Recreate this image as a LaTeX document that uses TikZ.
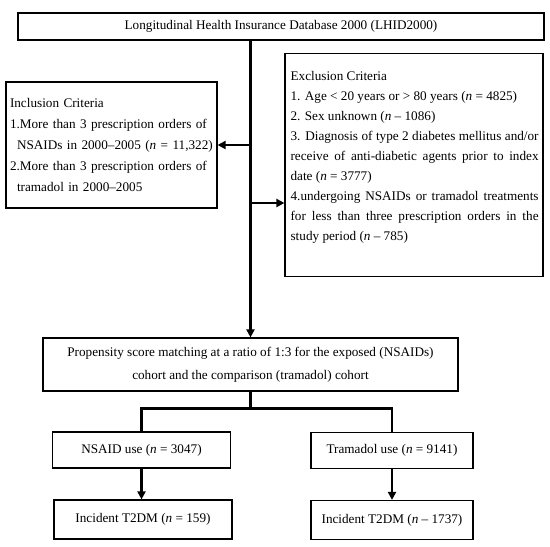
\documentclass[tikz,border=0pt]{standalone}
\usepackage{fontspec}
\setmainfont{Liberation Serif}
\usetikzlibrary{arrows.meta}

\begin{document}
\begin{tikzpicture}[x=1pt,y=-1pt,
  box/.style={draw, line width=1.2pt, inner sep=0pt, font=\fontsize{13.2}{21}\selectfont},
  listtext/.style={inner sep=0pt, text width=248pt, align=justify, font=\fontsize{13.2}{20}\selectfont},
  link/.style={line width=2.6pt},
  arr/.style={link, -{Triangle[length=8pt,width=8pt]}}]
  % page size
  \useasboundingbox (0,0) rectangle (550,547);

  % database
  \node[box, minimum width=526pt, minimum height=27pt] (lhid) at (281,26.5)
    {Longitudinal Health Insurance Database 2000 (LHID2000)};

  % inclusion criteria
  \node[box, minimum width=211pt, minimum height=126pt, text width=203pt, align=left] (incl) at (111.5,145)
    {Inclusion Criteria\\
     1.More than 3 prescription orders of\\
     \hspace*{7pt}NSAIDs in 2000–2005 (\textit{n} = 11,322)\\
     2.More than 3 prescription orders of\\
     \hspace*{7pt}tramadol in 2000–2005};

  % exclusion criteria
  \node[box, minimum width=258pt, minimum height=223pt] (excl) at (414,165) {};
  \node[listtext, anchor=base west] (excltext) at ([xshift=6pt,yshift=-28pt]excl.north west)
    {Exclusion Criteria\\
     1. Age < 20 years or > 80 years (\textit{n} = 4825)\\
     2. Sex unknown (\textit{n} – 1086)\\
     3. Diagnosis of type 2 diabetes mellitus and/or\linebreak
     receive of anti-diabetic agents prior to index\linebreak
     date (\textit{n} = 3777)\\
     4.undergoing NSAIDs or tramadol treatments\linebreak
     for less than three prescription orders in the\linebreak
     study period (\textit{n} – 785)};

  % matching
  \node[box, minimum width=415pt, minimum height=53pt, align=center,
        font=\fontsize{13.2}{23}\selectfont] (psm) at (250.5,364.5)
    {Propensity score matching at a ratio of 1:3 for the exposed (NSAIDs)\\
     cohort and the comparison (tramadol) cohort};

  % cohorts
  \node[box, minimum width=178pt, minimum height=36pt] (nsaid) at (141.5,450) {NSAID use (\textit{n} = 3047)};
  \node[box, minimum width=162pt, minimum height=36pt] (tram) at (392,450.5) {Tramadol use (\textit{n} = 9141)};

  % outcomes
  \node[box, minimum width=178pt, minimum height=39pt] (incN) at (143,519.5) {Incident T2DM (\textit{n} = 159)};
  \node[box, minimum width=162pt, minimum height=39pt] (incT) at (392,520) {Incident T2DM (\textit{n} – 1737)};

  % main flow
  \draw[arr] (lhid.south -| psm.north) -- (psm.north);
  \coordinate (j1) at (psm.north |- incl.east);
  \coordinate (j2) at ([yshift=-58pt]j1);
  \draw[arr] (j1) -- (incl.east);
  \draw[arr] (j2) -- (j2 -| excl.west);

  % split into cohorts
  \draw[link] (psm.south) -- ++(0,17) coordinate (split);
  \draw[link] (nsaid.north) |- (split) -| (tram.north);

  \draw[arr] (nsaid.south) -- (nsaid.south |- incN.north);
  \draw[arr] (tram.south) -- (tram.south |- incT.north);
\end{tikzpicture}
\end{document}
